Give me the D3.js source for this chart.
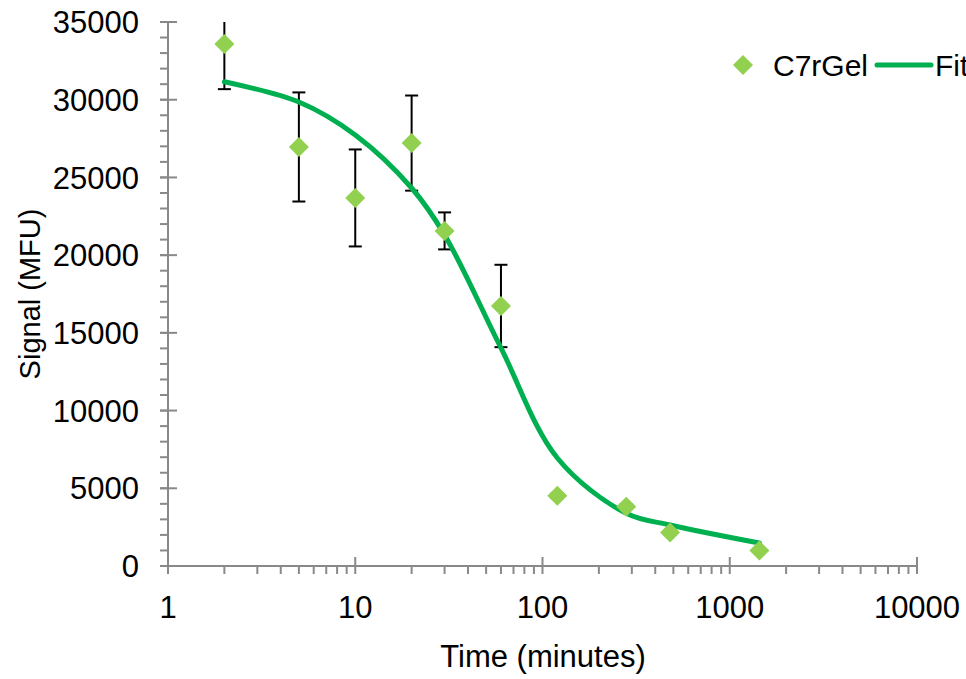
<!DOCTYPE html>
<style>
body { margin: 0; background: #fff; overflow: hidden; }
text { font-family: "Liberation Sans", Arial, sans-serif; fill: #000; }
</style>
<svg width="966" height="679"></svg>
<script src="https://d3js.org/d3.v7.min.js"></script>
<script>
// data
var times  = [2, 5, 10, 20, 30, 60, 120, 280, 480, 1440];
var signal = [33590, 26960, 23680, 27210, 21560, 16730, 4520, 3820, 2150, 990];
var errors = [2910, 3510, 3120, 3060, 1190, 2650, 150, 150, 100, 100];
var fitY   = [31160, 29850, 27730, 24320, 21300, 14030, 6950, 3390, 2640, 1480];
var xTicks = [1, 10, 100, 1000, 10000];
var yTicks = [0, 5000, 10000, 15000, 20000, 25000, 30000, 35000];

var svg = d3.select("svg"),
    plotL = 168, plotR = 917, plotT = 22, plotB = 566,
    axisColor = "#898989",
    pointColor = "#92D050",
    fitColor = "#00B050";

var x = d3.scaleLog().domain([1, 10000]).range([plotL, plotR]);
var y = d3.scaleLinear().domain([0, 35000]).range([plotB, plotT]);

svg.append("clipPath").attr("id", "plot")
  .append("rect").attr("x", plotL - 20).attr("y", plotT)
  .attr("width", plotR - plotL + 40).attr("height", plotB - plotT + 20);

// y axis
var yAxis = svg.append("g").attr("stroke", axisColor).attr("stroke-width", 2);
yAxis.append("line").attr("x1", plotL).attr("x2", plotL).attr("y1", plotT).attr("y2", plotB);
yAxis.selectAll(".minor").data(d3.range(0, 35001, 1000)).enter().append("line")
    .attr("x1", plotL - 8).attr("x2", plotL)
    .attr("y1", function(d) { return y(d); }).attr("y2", function(d) { return y(d); });
yAxis.selectAll(".major").data(yTicks).enter().append("line")
    .attr("x1", plotL - 8).attr("x2", plotL + 9)
    .attr("y1", function(d) { return y(d); }).attr("y2", function(d) { return y(d); });

svg.append("g").selectAll("text").data(yTicks).enter().append("text")
    .attr("x", 139).attr("y", function(d) { return y(d); })
    .attr("dy", "0.36em").attr("text-anchor", "end")
    .style("font-size", "31px")
    .text(function(d) { return d; });

// x axis
var minorX = [];
[1, 10, 100, 1000].forEach(function(dec) {
  for (var k = 2; k <= 9; k++) minorX.push(dec * k);
});
var xAxis = svg.append("g").attr("stroke", axisColor).attr("stroke-width", 2);
xAxis.append("line").attr("x1", plotL).attr("x2", plotR).attr("y1", plotB).attr("y2", plotB);
xAxis.selectAll(".minor").data(minorX).enter().append("line")
    .attr("x1", function(d) { return x(d); }).attr("x2", function(d) { return x(d); })
    .attr("y1", plotB).attr("y2", plotB + 8);
xAxis.selectAll(".major").data(xTicks).enter().append("line")
    .attr("x1", function(d) { return x(d); }).attr("x2", function(d) { return x(d); })
    .attr("y1", plotB - 9).attr("y2", plotB + 8);

svg.append("g").selectAll("text").data(xTicks).enter().append("text")
    .attr("x", function(d) { return x(d); }).attr("y", plotB + 41)
    .attr("dy", "0.36em").attr("text-anchor", "middle")
    .style("font-size", "31px")
    .text(function(d) { return d; });

// titles
svg.append("text")
    .attr("x", 543).attr("y", 656).attr("dy", "0.36em")
    .attr("text-anchor", "middle").style("font-size", "31px")
    .text("Time (minutes)");
svg.append("text")
    .attr("transform", "translate(30,294) rotate(-90)")
    .attr("dy", "0.36em")
    .attr("text-anchor", "middle").style("font-size", "29px")
    .text("Signal (MFU)");

var data = times.map(function(t, i) {
  return {t: t, v: signal[i], e: errors[i], f: fitY[i]};
});

// error bars
var eb = svg.append("g").attr("clip-path", "url(#plot)")
    .attr("stroke", "#000").attr("stroke-width", 2);
data.forEach(function(d) {
  var cx = x(d.t), y1 = y(d.v + d.e), y0 = y(d.v - d.e);
  eb.append("line").attr("x1", cx).attr("x2", cx).attr("y1", y1).attr("y2", y0);
  eb.append("line").attr("x1", cx - 6.5).attr("x2", cx + 6.5).attr("y1", y1).attr("y2", y1);
  eb.append("line").attr("x1", cx - 6.5).attr("x2", cx + 6.5).attr("y1", y0).attr("y2", y0);
});

// fit line
var line = d3.line()
    .x(function(d) { return x(d.t); })
    .y(function(d) { return y(d.f); })
    .curve(d3.curveCatmullRom.alpha(0.5));
svg.append("path").datum(data)
    .attr("d", line)
    .attr("fill", "none").attr("stroke", fitColor)
    .attr("stroke-width", 5).attr("stroke-linecap", "round");

// diamonds
var diamond = "M0,-10L10,0L0,10L-10,0Z";
svg.append("g").selectAll("path").data(data).enter().append("path")
    .attr("d", diamond)
    .attr("transform", function(d) { return "translate(" + x(d.t) + "," + y(d.v) + ")"; })
    .attr("fill", pointColor);

// legend
svg.append("path").attr("d", diamond)
    .attr("transform", "translate(743,65)").attr("fill", pointColor);
svg.append("text").attr("x", 773).attr("y", 65).attr("dy", "0.36em")
    .style("font-size", "30px").text("C7rGel");
svg.append("line").attr("x1", 877).attr("x2", 931).attr("y1", 65).attr("y2", 65)
    .attr("stroke", fitColor).attr("stroke-width", 5).attr("stroke-linecap", "round");
svg.append("text").attr("x", 935).attr("y", 65).attr("dy", "0.36em")
    .style("font-size", "30px").text("Fit");
</script>
